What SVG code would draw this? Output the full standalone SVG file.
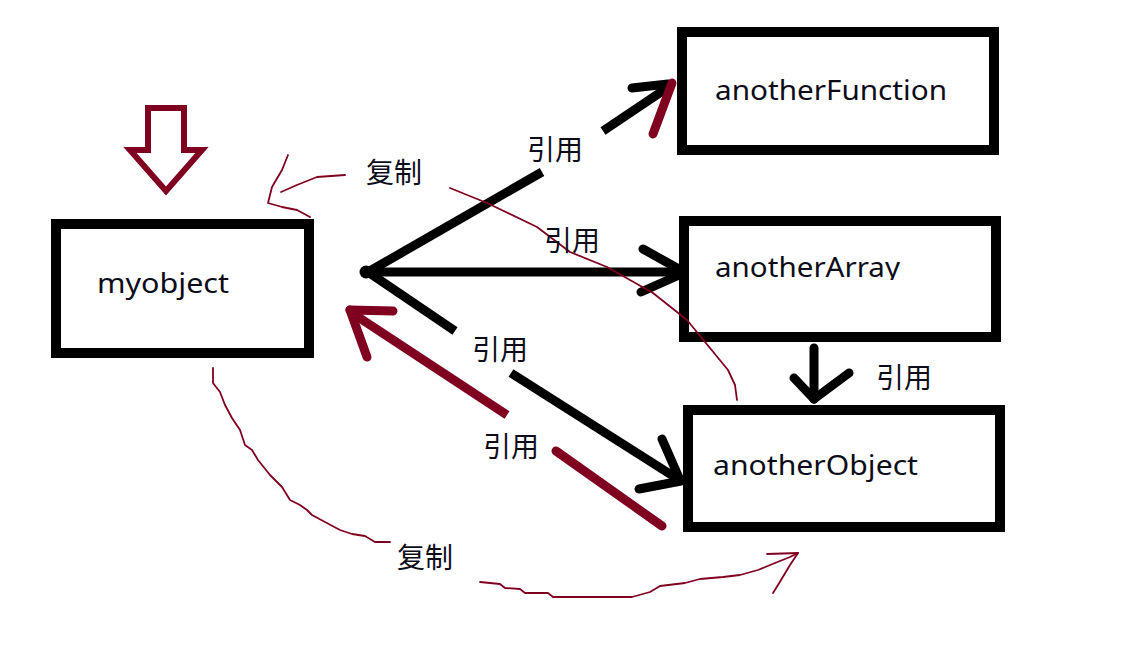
<svg xmlns="http://www.w3.org/2000/svg" width="1134" height="648" viewBox="0 0 1134 648">
<style>
.box{fill:#fff;stroke:#000;stroke-width:10}
.lbl{font-family:"Noto Sans","Open Sans","DejaVu Sans",sans-serif;font-size:27px;fill:#0d0d1a}
.cjk{font-family:"Noto Sans CJK SC","Noto Sans",sans-serif;font-size:28px;fill:#0d0d1a}
.blk{stroke:#000;stroke-width:9;fill:none}
.red{stroke:#800020;stroke-width:9;fill:none}
.thin{stroke:#800020;stroke-width:1.8;fill:none;stroke-linejoin:round;stroke-linecap:round}
</style>
<defs>
<clipPath id="clipArr"><rect x="690" y="226" width="300" height="54"/></clipPath>
</defs>
<rect width="1134" height="648" fill="#fff"/>

<g id="bigArrow">
<polygon points="148,108 184,108 184,150 202,150 166,191 130,150 148,150" fill="#fff" stroke="#800020" stroke-width="6" stroke-linejoin="miter"/>
</g>

<g id="myobject">
<rect class="box" x="56" y="224" width="253" height="129"/>
<text class="lbl" x="97" y="293" textLength="132" lengthAdjust="spacingAndGlyphs">myobject</text>
</g>
<g id="anotherFunction">
<rect class="box" x="682" y="32" width="312" height="118"/>
<text class="lbl" x="715" y="100" textLength="232" lengthAdjust="spacingAndGlyphs">anotherFunction</text>
</g>
<g id="anotherArray">
<rect class="box" x="684" y="221" width="312" height="116"/>
<text class="lbl" x="715" y="277" textLength="185" lengthAdjust="spacingAndGlyphs" clip-path="url(#clipArr)">anotherArray</text>
</g>
<g id="anotherObject">
<rect class="box" x="688" y="410" width="312" height="117"/>
<text class="lbl" x="713" y="475" textLength="205" lengthAdjust="spacingAndGlyphs">anotherObject</text>
</g>

<g id="connectors">
<circle cx="366" cy="272" r="6.5" fill="#000"/>
<!-- to anotherFunction -->
<line class="blk" x1="368" y1="272" x2="542" y2="172" stroke-width="10"/>
<line class="blk" x1="603" y1="131" x2="667" y2="88"/>
<line class="blk" x1="632" y1="88" x2="668" y2="84" stroke-linecap="round"/>
<line class="red" x1="653" y1="134" x2="672" y2="83" stroke-width="8" stroke-linecap="round"/>
<!-- to anotherArray -->
<line class="blk" x1="366" y1="272" x2="678" y2="272"/>
<line class="blk" x1="643" y1="249" x2="677" y2="268" stroke-linecap="round"/>
<line class="blk" x1="641" y1="292" x2="677" y2="276" stroke-linecap="round"/>
<!-- to anotherObject -->
<line class="blk" x1="368" y1="272" x2="455" y2="331"/>
<line class="blk" x1="511" y1="373" x2="681" y2="481"/>
<line class="blk" x1="662" y1="439" x2="680" y2="480" stroke-linecap="round"/>
<line class="blk" x1="639" y1="489" x2="681" y2="481" stroke-linecap="round"/>
<!-- anotherArray to anotherObject -->
<line class="blk" x1="814" y1="348" x2="814" y2="399" stroke-linecap="round"/>
<line class="blk" x1="794" y1="378" x2="814" y2="399" stroke-linecap="round"/>
<line class="blk" x1="849" y1="373" x2="814" y2="399" stroke-linecap="round"/>
<!-- red back reference -->
<line class="red" x1="662" y1="526" x2="556" y2="451" stroke-linecap="round"/>
<line class="red" x1="507" y1="415" x2="352" y2="313"/>
<line class="red" x1="393" y1="311" x2="350" y2="310" stroke-linecap="round"/>
<line class="red" x1="367" y1="357" x2="350" y2="310" stroke-linecap="round"/>
<!-- thin copy curves -->
<path class="thin" d="M345,175 L317,177 L297,185 L281,192"/>
<path class="thin" d="M288,155 L282,170 L272,187 L268,203 L282,207 L297,210 L310,217"/>
<path class="thin" d="M450,188 L487,203 L537,227 L570,252 L607,267 L653,293 L687,320 L710,348 L728,370 L735,385 L737,400"/>
<path class="thin" d="M213,368 L213,383 L220,392 L225,405 L232,418 L240,430 L245,445 L252,450 L258,460 L270,475 L282,487 L290,500 L300,505 L307,510 L312,515 L325,522 L340,530 L352,534 L365,536 L375,542 L390,542"/>
<path class="thin" d="M480,582 L500,584 L505,588 L520,589 L525,593 L548,593 L553,597 L632,597 L650,592 L660,586 L685,583 L700,579 L723,577 L740,575 L758,570 L775,563 L790,557 L798,553"/>
<path class="thin" d="M767,554 L798,553 L790,565 L784,575 L778,585 L773,593"/>
</g>

<g id="labels">
<text class="cjk" x="527" y="160">引用</text>
<text class="cjk" x="544" y="251">引用</text>
<text class="cjk" x="472" y="360">引用</text>
<text class="cjk" x="483" y="457">引用</text>
<text class="cjk" x="876" y="388">引用</text>
<text class="cjk" x="366" y="183">复制</text>
<text class="cjk" x="397" y="568">复制</text>
</g>
</svg>
